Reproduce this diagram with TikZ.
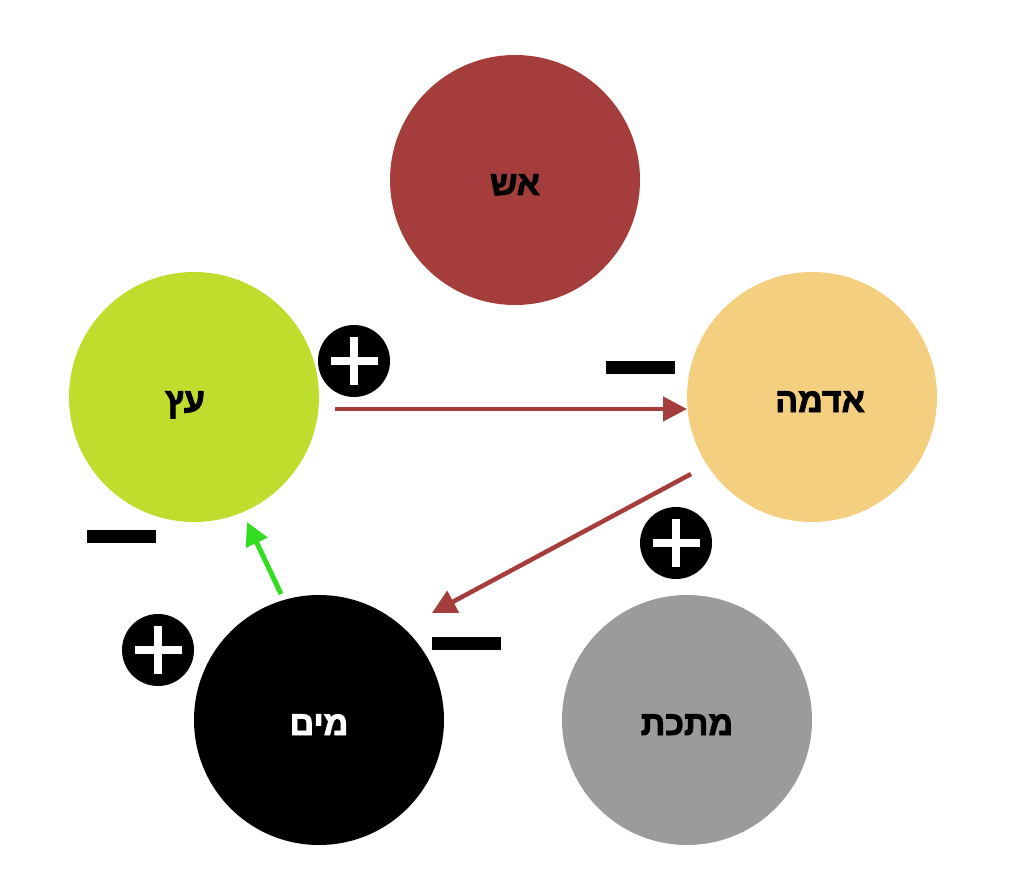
\documentclass[tikz,border=0pt]{standalone}
\usepackage{fontspec}
\usetikzlibrary{positioning, shapes, arrows.meta}
\TeXXeTstate=1
\newfontfamily\hebfont[Script=Hebrew]{Liberation Sans Bold}
\definecolor{FireRed}{RGB}{164, 61, 59}
\definecolor{WoodGreen}{RGB}{191, 221, 44}
\definecolor{EarthYellow}{RGB}{243, 207, 127}
\definecolor{MetalGray}{RGB}{155, 155, 155}
\definecolor{ArrowGreen}{RGB}{51, 221, 34}
% heavier strokes for the element names
\newcommand{\heb}[1]{\special{pdf:literal direct 2 Tr 0.9 w}\hebfont\beginR #1\endR\special{pdf:literal direct 0 Tr}}

\begin{document}
\begin{tikzpicture}[
    x=1pt, y=-1pt,
    element/.style={circle, minimum size=250pt, inner sep=0pt, text height=30pt, text depth=0pt,
      font=\fontsize{34}{38}\selectfont},
    plusmark/.style={circle, fill=black, minimum size=72pt, inner sep=0pt,
      path picture={
        \fill[white] ([xshift=-23.5pt, yshift=-4pt]path picture bounding box.center) rectangle ++(47pt,8pt);
        \fill[white] ([xshift=-4pt, yshift=-24pt]path picture bounding box.center) rectangle ++(8pt,48pt);
      }},
    minusmark/.style={rectangle, fill=black, minimum width=69pt, minimum height=13pt, inner sep=0pt},
    redarrow/.style={draw=FireRed, line width=4.5pt, -{Triangle[length=24pt, width=24pt]}},
    greenarrow/.style={draw=ArrowGreen, line width=5pt, -{Triangle[length=23pt, width=23pt]}}
  ]
    \useasboundingbox (0,0) rectangle (1014,893);

    \node[element, fill=FireRed] (fire) at (515,180) {\heb{אש}};
    \node[element, fill=WoodGreen] (wood) at (194,397) {\hspace{-18pt}\heb{עץ}};
    \node[element, fill=EarthYellow] (earth) at (812,397) {\hspace{16pt}\heb{אדמה}};
    \node[element, fill=black, text=white] (water) at (319,720) {\heb{מים}};
    \node[element, fill=MetalGray] (metal) at (687,720) {\heb{מתכת}};

    \node[plusmark] (plusA) at (354,361) {};
    \node[plusmark] (plusB) at (676,543) {};
    \node[plusmark] (plusC) at (158,650) {};

    \node[minusmark] (minusA) at (640.5,367.5) {};
    \node[minusmark] (minusB) at (121.5,536.5) {};
    \node[minusmark] (minusC) at (466,643.5) {};

    \coordinate (woodout) at (335,409);
    \coordinate (earthin) at (687,409);
    \coordinate (earthout) at (691,474);
    \coordinate (waterin) at (432,613);
    \coordinate (waterout) at (281,594);
    \coordinate (woodin) at (247,522);

    \draw[redarrow] (woodout) -- (earthin);
    \draw[redarrow] (earthout) -- (waterin);
    \draw[greenarrow] (waterout) -- (woodin);
  \end{tikzpicture}
\end{document}
